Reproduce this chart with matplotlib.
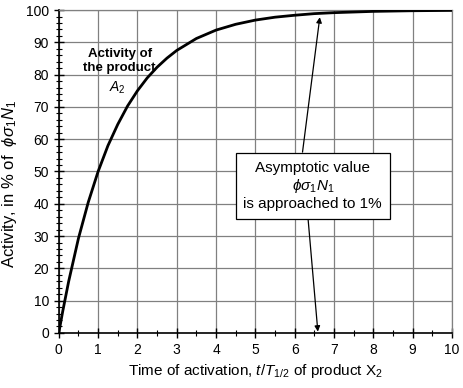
import matplotlib
matplotlib.use("Agg")
import matplotlib.pyplot as plt
from matplotlib.ticker import MultipleLocator

plt.rcParams['font.family'] = ['Liberation Sans', 'DejaVu Sans']
plt.rcParams['mathtext.fontset'] = 'custom'
plt.rcParams['mathtext.rm'] = 'Liberation Sans'
plt.rcParams['mathtext.it'] = 'Liberation Sans:italic'
plt.rcParams['mathtext.bf'] = 'Liberation Sans:bold'

# values
t_values = [0, 0.1, 0.25, 0.5, 0.75, 1.0, 1.25, 1.5, 1.75, 2.0, 2.25, 2.5, 2.75,
            3.0, 3.5, 4.0, 4.5, 5.0, 5.5, 6.0, 6.5, 7.0, 7.5, 8.0, 9.0, 10.0]
activity = [0, 6.7, 15.9, 29.3, 40.5, 50.0, 58.0, 64.6, 70.3, 75.0, 79.0, 82.3, 85.1,
            87.5, 91.2, 93.8, 95.6, 96.9, 97.8, 98.4, 98.9, 99.2, 99.4, 99.6, 99.8, 99.9]
x_ticks = list(range(0, 11))
y_ticks = list(range(0, 101, 10))

fig = plt.figure(figsize=(4.63, 3.88), dpi=100)
ax = fig.add_axes([0.127, 0.142, 0.849, 0.832])
ax.plot(t_values, activity, color='black', lw=2.0, zorder=3)

ax.set_xlim(0, 10)
ax.set_ylim(0, 100)
ax.set_xticks(x_ticks)
ax.set_yticks(y_ticks)
ax.xaxis.set_minor_locator(MultipleLocator(0.5))
ax.yaxis.set_minor_locator(MultipleLocator(2))
ax.tick_params(which='major', direction='inout', length=7, width=1.0, labelsize=10)
ax.tick_params(which='minor', direction='inout', length=5, width=0.8)
ax.grid(True, which='major', color='#808080', lw=0.9)
for s in ['top', 'right']:
    ax.spines[s].set_color('#808080')
    ax.spines[s].set_linewidth(0.9)
for s in ['left', 'bottom']:
    ax.spines[s].set_linewidth(1.2)

ax.set_xlabel(r'Time of activation, $t/T_{\mathrm{1/2}}$ of product X$_{\mathrm{2}}$', fontsize=11, labelpad=4)
ax.set_ylabel(r'Activity, in % of  $\phi\sigma_{\mathrm{1}}N_{\mathrm{1}}$', fontsize=12)
ax.yaxis.set_label_coords(-0.1, 0.46)

ax.text(1.55, 84.2, 'Activity of\nthe product', ha='center', va='center', fontsize=9.5,
        fontweight='bold', linespacing=1.15, zorder=4)
ax.text(1.5, 75.8, r'$A_{\mathrm{2}}$', ha='center', va='center', fontsize=10, zorder=4)

ax.annotate('', xy=(6.64, 97.8), xytext=(6.2, 56.0),
            arrowprops=dict(arrowstyle='-|>', color='black', lw=0.9, mutation_scale=8,
                            shrinkA=0, shrinkB=0), zorder=4)
ax.annotate('', xy=(6.59, 0.4), xytext=(6.34, 35.5),
            arrowprops=dict(arrowstyle='-|>', color='black', lw=0.9, mutation_scale=8,
                            shrinkA=0, shrinkB=0), zorder=4)
ax.text(6.46, 45.5, 'Asymptotic value\n' + r'$\phi\sigma_{\mathrm{1}}N_{\mathrm{1}}$' + '\nis approached to 1%',
        ha='center', va='center', fontsize=11, linespacing=1.2, zorder=5,
        bbox=dict(boxstyle='square,pad=0.5', fc='white', ec='black', lw=0.9))

fig.savefig('out.png', dpi=100)
